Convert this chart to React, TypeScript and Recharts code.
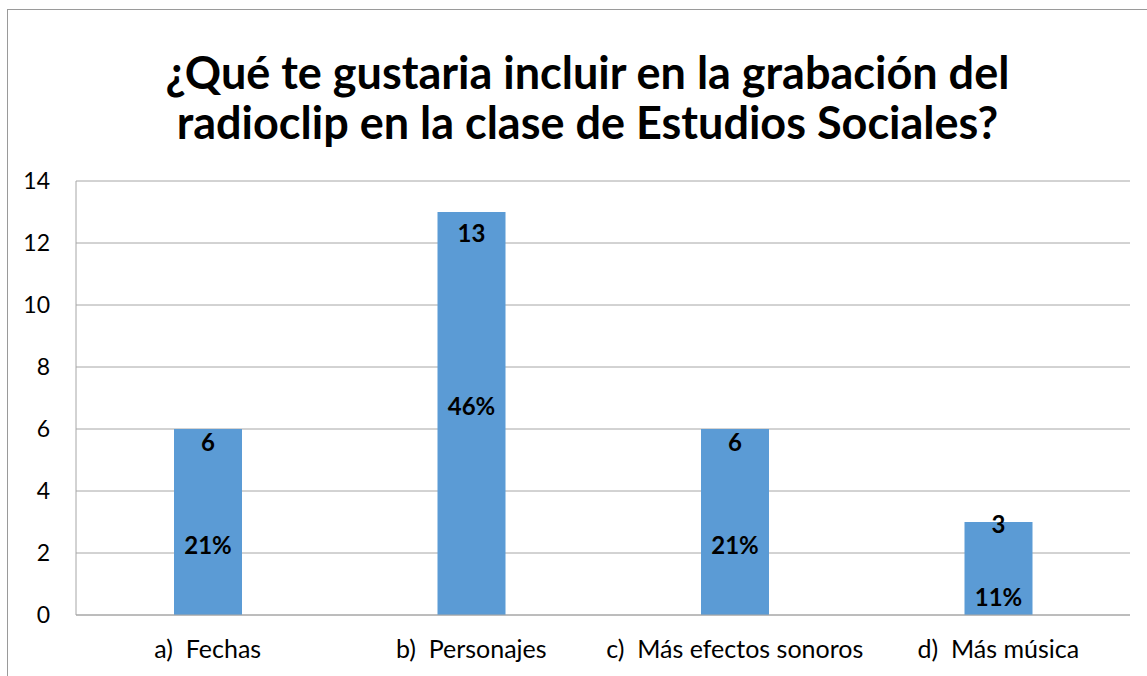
import React from "react";
import { BarChart, Bar, XAxis, YAxis, CartesianGrid, LabelList } from "recharts";

const categories = ["a)\u00a0\u00a0Fechas", "b)\u00a0\u00a0Personajes", "c)\u00a0\u00a0Más efectos sonoros", "d)\u00a0\u00a0Más música"];
const counts = [6, 13, 6, 3];
const percents = ["21%", "46%", "21%", "11%"];
// where Excel left each label, in axis units
const countLabelAt = [5.6, 12.35, 5.6, 2.94];
const pctLabelAt = [2.26, 6.77, 2.26, 0.61];
const yTicks = [0, 2, 4, 6, 8, 10, 12, 14];

const data = categories.map((name, i) => ({ name, count: counts[i] }));

const FONT = "Lato, 'Open Sans', sans-serif";

const makeLabel = (texts: (string | number)[], at: number[]) => (props: any) => {
  const { x, y, width, height, index, value } = props;
  const yy = y + height * (1 - at[index] / value);
  return (
    <text
      x={x + width / 2}
      y={yy}
      textAnchor="middle"
      dominantBaseline="central"
      fontFamily={FONT}
      fontWeight={700}
      fontSize={24}
      fill="#000"
    >
      {texts[index]}
    </text>
  );
};

export default function App() {
  return (
    <div style={{ position: "absolute", left: 0, top: 0, width: 1147, height: 676, overflow: "hidden", background: "#fff" }}>
      <div style={{ position: "absolute", left: 7, top: 9, width: 1200, height: 720, border: "1px solid #9a9a9a" }} />
      <div
        style={{
          position: "absolute",
          left: 0,
          top: 47,
          width: 1175,
          textAlign: "center",
          fontFamily: FONT,
          fontWeight: 700,
          fontSize: 45,
          lineHeight: "50px",
          color: "#000",
        }}
      >
        ¿Qué te gustaria incluir en la grabación del
        <br />
        radioclip en la clase de Estudios Sociales?
      </div>
      <div style={{ position: "absolute", left: 0, top: 0 }}>
        <BarChart width={1147} height={676} data={data} margin={{ top: 181, right: 17, left: 16, bottom: 21 }} barCategoryGap={98}>
          <CartesianGrid vertical={false} stroke="#a6a6a6" />
          <XAxis
            dataKey="name"
            axisLine={{ stroke: "#a6a6a6" }}
            tickLine={false}
            tickSize={0}
            tickMargin={25}
            height={40}
            interval={0}
            tick={{ fontFamily: FONT, fontSize: 25, fill: "#000" }}
          />
          <YAxis
            domain={[0, 14]}
            ticks={yTicks}
            width={60}
            axisLine={{ stroke: "#a6a6a6" }}
            tickLine={false}
            tickSize={0}
            tickMargin={26}
            tick={{ fontFamily: FONT, fontSize: 23, fill: "#000" }}
          />
          <Bar dataKey="count" fill="#5b9bd5" isAnimationActive={false}>
            <LabelList dataKey="count" content={makeLabel(counts, countLabelAt)} />
            <LabelList dataKey="count" content={makeLabel(percents, pctLabelAt)} />
          </Bar>
        </BarChart>
      </div>
    </div>
  );
}
